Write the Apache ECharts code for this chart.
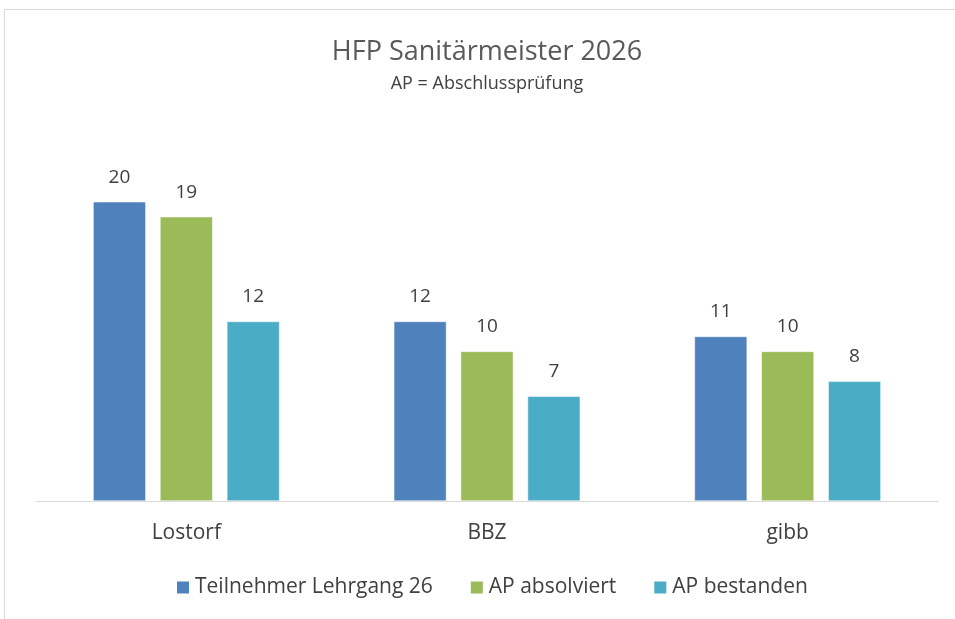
<!DOCTYPE html>
<html>
<head>
<meta charset="utf-8">
<script src="https://cdn.jsdelivr.net/npm/echarts@6/dist/echarts.min.js"></script>
<style>
  html, body { margin: 0; padding: 0; background: #fff; }
  #chart { width: 955px; height: 619px; }
</style>
</head>
<body>
<div id="chart"></div>
<script>
const categories = ['Lostorf', 'BBZ', 'gibb']
const seriesNames = ['Teilnehmer Lehrgang 26', 'AP absolviert', 'AP bestanden']
const teilnehmer = [20, 12, 11]
const absolviert = [19, 10, 10]
const bestanden = [12, 7, 8]
const colors = ['#4F81BD', '#9BBB59', '#4BACC6']

const font = '"Open Sans", "Noto Sans", sans-serif'
const chart = echarts.init(document.getElementById('chart'))

const makeSeries = (name, data, color) => ({
  name,
  type: 'bar',
  data,
  barGap: '27%',
  barCategoryGap: '38%',
  itemStyle: { color, borderColor: '#fff', borderWidth: 0.5 },
  label: {
    show: true,
    position: 'top',
    distance: 15,
    fontFamily: font,
    fontSize: 19,
    color: '#404040',
  },
})

chart.setOption({
  animation: false,
  color: colors,
  // the frame of the original chart runs past the right edge, so the titles sit a bit right of centre
  title: {
    text: 'HFP Sanitärmeister 2026',
    subtext: 'AP = Abschlussprüfung',
    left: 482,
    textAlign: 'center',
    top: 34,
    itemGap: 9,
    textStyle: { fontFamily: font, fontSize: 27, fontWeight: 'normal', color: '#595959' },
    subtextStyle: { fontFamily: font, fontSize: 18, color: '#404040' },
  },
  graphic: [
    {
      type: 'rect',
      shape: { x: 4.5, y: 9.5, width: 1000, height: 700 },
      style: { fill: 'none', stroke: '#d9d9d9', lineWidth: 1 },
      silent: true,
    },
  ],
  legend: {
    bottom: 16,
    left: 170,
    itemWidth: 14,
    itemHeight: 14,
    itemGap: 36,
    icon: 'rect',
    textStyle: { fontFamily: font, fontSize: 21, color: '#404040' },
    data: seriesNames,
  },
  grid: { left: 36, right: 17, top: 127, bottom: 118 },
  xAxis: {
    type: 'category',
    data: categories,
    axisLine: { lineStyle: { color: '#d9d9d9', width: 1 } },
    axisTick: { show: false },
    axisLabel: { fontFamily: font, fontSize: 21, color: '#404040', margin: 22 },
  },
  yAxis: {
    type: 'value',
    min: 0,
    max: 25,
    show: false,
    splitLine: { show: false },
  },
  series: [
    makeSeries(seriesNames[0], teilnehmer, colors[0]),
    makeSeries(seriesNames[1], absolviert, colors[1]),
    makeSeries(seriesNames[2], bestanden, colors[2]),
  ],
})
</script>
</body>
</html>
